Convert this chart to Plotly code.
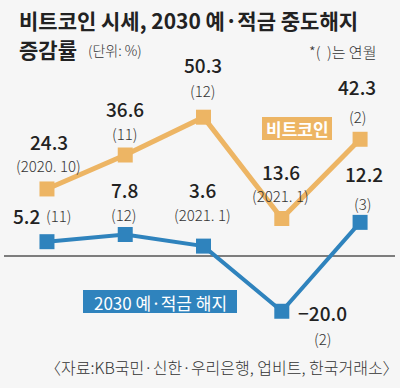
import plotly.graph_objects as go

# ---- data ----
idx = [0, 1, 2, 3, 4]
btc_values = [24.3, 36.6, 50.3, 13.6, 42.3]
btc_periods = ["(2020. 10)", "(11)", "(12)", "(2021. 1)", "(2)"]
dep_values = [5.2, 7.8, 3.6, -20.0, 12.2]
dep_periods = ["(11)", "(12)", "(2021. 1)", "(2)", "(3)"]

title1 = "비트코인 시세, 2030 예·적금 중도해지"
title2 = "증감률"
unit = "(단위: %)"
note = "*(  )는 연월"
btc_name = "비트코인"
dep_name = "2030 예·적금 해지"
source = "〈자료:KB국민·신한·우리은행, 업비트, 한국거래소〉"

ORANGE = "#EDB564"
BLUE = "#2F83BD"
W, H = 400, 388
KR = "Noto Sans CJK KR, sans-serif"

fig = go.Figure()
fig.add_trace(go.Scatter(x=idx, y=btc_values, mode="lines+markers",
                         line=dict(color=ORANGE, width=5),
                         marker=dict(symbol="square", size=15, color=ORANGE),
                         hoverinfo="skip", showlegend=False))
fig.add_trace(go.Scatter(x=idx, y=dep_values, mode="lines+markers",
                         line=dict(color=BLUE, width=4),
                         marker=dict(symbol="square", size=15, color=BLUE),
                         hoverinfo="skip", showlegend=False))

def P(x, y):
    return x / W, 1 - y / H

anns = []
def txt(x, y, s, size, color="#222", weight=400, xanchor="center"):
    px, py = P(x, y)
    anns.append(dict(x=px, y=py, xref="paper", yref="paper", text=s,
                     showarrow=False, xanchor=xanchor, yanchor="middle",
                     font=dict(size=size, color=color, family=KR, weight=weight)))

# title
txt(17, 20, title1, 21, "#222", 700, "left")
txt(17, 49, title2, 21, "#222", 700, "left")
txt(86, 50, unit, 14, "#333", 300, "left")
txt(342, 52, note, 15, "#333", 300, "center")

# bitcoin labels
btc_val_xy = [(49, 141), (125, 108), (203, 65), (281, 171), (357, 86)]
btc_per_xy = [(48, 165), (125, 133), (203, 90), (280, 195), (357, 116)]
for v, (x, y) in zip(btc_values, btc_val_xy):
    txt(x, y, "%.1f" % v, 19, "#222", 500)
for s, (x, y) in zip(btc_periods, btc_per_xy):
    txt(x, y, s, 15, "#333", 300)

# deposit labels
dep_val_xy = [(26, 215), (124, 189), (203, 189), (322, 312), (364, 174)]
dep_per_xy = [(59, 215), (124, 214), (203, 214), (322, 338), (362, 203)]
for v, (x, y) in zip(dep_values, dep_val_xy):
    s = "%.1f" % v
    if v < 0:
        s = "\u2212" + s[1:]
    txt(x, y, s, 19, "#222", 500)
for s, (x, y) in zip(dep_periods, dep_per_xy):
    txt(x, y, s, 15, "#333", 300)

# series name boxes
shapes = []
def box(x0, y0, x1, y1, color):
    shapes.append(dict(type="rect", xref="paper", yref="paper",
                       x0=x0 / W, x1=x1 / W, y0=1 - y1 / H, y1=1 - y0 / H,
                       fillcolor=color, line=dict(width=0), layer="above"))
box(262, 117, 332, 140, ORANGE)
box(83, 290, 237, 313, BLUE)
txt(297, 129, btc_name, 17, "white", 700)
txt(160, 302, dep_name, 17, "white", 400)

# zero line
shapes.append(dict(type="line", xref="paper", yref="y", x0=4 / W, x1=395 / W, y0=0, y1=0,
                   line=dict(color="#555", width=1.5), layer="below"))

txt(222, 367, source, 16, "#333", 300)

fig.update_layout(
    width=W, height=H,
    margin=dict(l=0, r=0, t=0, b=0),
    paper_bgcolor="#F6F6F6", plot_bgcolor="#F6F6F6",
    xaxis=dict(range=[-0.6, 4.51], visible=False, fixedrange=True),
    yaxis=dict(range=[-47.8, 92.75], visible=False, fixedrange=True),
    annotations=anns, shapes=shapes,
)
fig.write_html("out.html", config={"displayModeBar": False},
               post_script="document.body.style.margin='0';document.body.style.overflow='hidden';")
